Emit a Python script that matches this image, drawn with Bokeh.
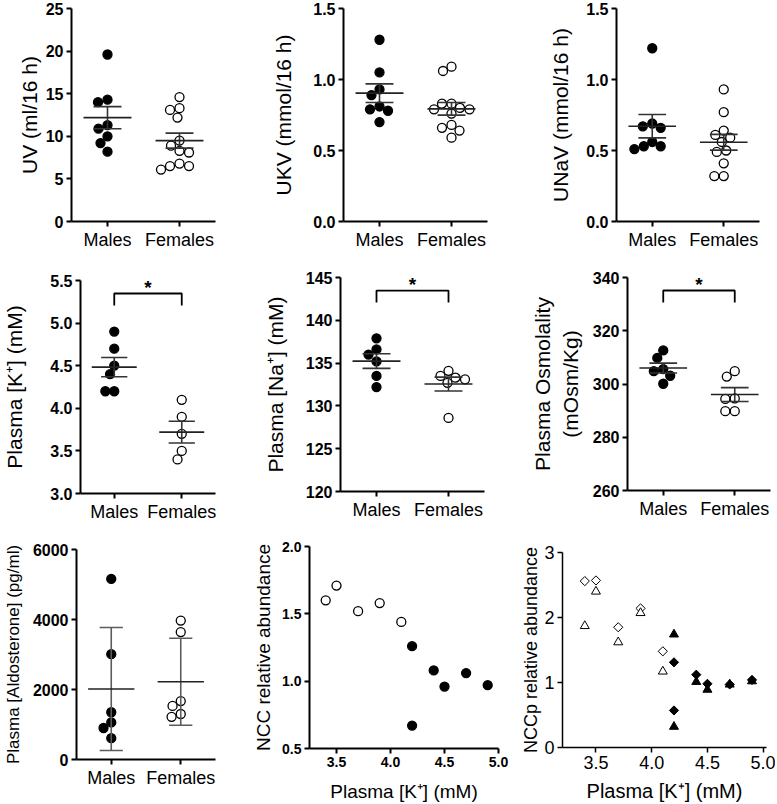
import numpy as np
from bokeh.plotting import figure
from bokeh.models import Range1d, FixedTicker, NumeralTickFormatter, Label
from bokeh.layouts import row, column
from bokeh.embed import file_html
from bokeh.resources import INLINE

FONT = "Liberation Sans"

# ---------------- data ----------------
groups = ["Males", "Females"]

uv_m = [19.6, 14.3, 14.0, 11.3, 10.9, 10.0, 9.2, 8.2]
uv_f = [14.6, 13.3, 13.1, 12.2, 9.5, 8.9, 8.3, 8.1, 6.8, 6.5, 6.5, 6.1]
ukv_m = [1.28, 1.05, 0.93, 0.89, 0.81, 0.79, 0.78, 0.70]
ukv_f = [1.09, 1.06, 0.83, 0.83, 0.80, 0.79, 0.79, 0.76, 0.68, 0.66, 0.64, 0.59]
unav_m = [1.22, 0.69, 0.67, 0.66, 0.56, 0.53, 0.53, 0.51]
unav_f = [0.93, 0.77, 0.64, 0.61, 0.59, 0.56, 0.50, 0.49, 0.41, 0.32, 0.32]
k_m = [4.9, 4.7, 4.5, 4.4, 4.2, 4.2]
k_f = [4.1, 3.9, 3.7, 3.5, 3.4]
na_m = [137.9, 136.6, 136.0, 135.2, 133.5, 132.2]
na_f = [134.1, 133.5, 133.3, 133.1, 132.7, 128.6]
osm_m = [312.6, 309.8, 305.6, 304.8, 303.1, 300.1]
osm_f = [304.8, 302.8, 294.6, 294.4, 289.8, 289.8]
aldo_m = [5160, 3010, 1350, 1060, 900, 610]
aldo_f = [3970, 3640, 1670, 1530, 1300, 1220]

ncc_k_f = [3.4, 3.5, 3.7, 3.9, 4.1]
ncc_f = [1.60, 1.71, 1.52, 1.58, 1.44]
ncc_k_m = [4.2, 4.2, 4.4, 4.5, 4.7, 4.9]
ncc_m = [1.26, 0.67, 1.08, 0.96, 1.06, 0.97]

nccp_k_f = [3.4, 3.5, 3.7, 3.9, 4.1]
nccp_dia_f = [2.56, 2.57, 1.85, 2.14, 1.48]
nccp_tri_f = [1.87, 2.40, 1.62, 2.07, 1.17]
nccp_k_m = [4.2, 4.2, 4.4, 4.5, 4.7, 4.9]
nccp_dia_m = [1.31, 0.57, 1.12, 0.98, 0.97, 1.04]
nccp_tri_m = [1.74, 0.32, 1.01, 0.89, 0.97, 1.02]

uv_ticks = [0, 5, 10, 15, 20, 25]
u_ticks = [0, 0.5, 1.0, 1.5]
k_ticks = [3.0, 3.5, 4.0, 4.5, 5.0, 5.5]
na_ticks = [120, 125, 130, 135, 140, 145]
osm_ticks = [260, 280, 300, 320, 340]
aldo_ticks = [0, 2000, 4000, 6000]
ncc_ticks = [0.5, 1.0, 1.5, 2.0]
nccp_ticks = [0, 1, 2, 3]
kx_ticks = [3.5, 4.0, 4.5, 5.0]

MARK = 9
CAT_PX = 72.0  # pixels between the two category centres


def swarm(vals, px_per_unit, d=MARK + 0.5):
    vals = list(vals)
    offs = [0.0] * len(vals)
    placed = []
    cands = sorted(set(np.round(np.arange(-40, 40.25, 0.5), 2)), key=lambda c: (abs(c), c))
    for i in np.argsort(-np.asarray(vals), kind="stable"):
        y = vals[i] * px_per_unit
        for c in cands:
            if all((c - ox) ** 2 + (y - oy) ** 2 >= d * d for ox, oy in placed):
                offs[i] = c
                placed.append((c, y))
                break
    return offs


def base_fig(geom, xr, yr):
    left, fw, right, top, fh, bottom = geom
    p = figure(width=left + fw + right, height=top + fh + bottom,
               x_range=xr, y_range=yr, output_backend="svg",
               toolbar_location=None, min_border_left=left,
               min_border_right=right, min_border_top=top,
               min_border_bottom=bottom)
    p.outline_line_color = None
    p.xgrid.visible = False
    p.ygrid.visible = False
    p.background_fill_color = "white"
    p.border_fill_color = "white"
    return p


def style_axis(ax, lw, tick_size, bold, label_size, standoff):
    ax.axis_line_width = lw
    ax.axis_line_color = "black"
    ax.major_tick_line_width = lw
    ax.major_tick_line_color = "black"
    ax.major_tick_out = 5
    ax.major_tick_in = 0
    ax.minor_tick_out = 0
    ax.minor_tick_in = 0
    ax.major_label_text_font = FONT
    ax.major_label_text_font_size = f"{tick_size}px"
    ax.major_label_text_font_style = "bold" if bold else "normal"
    ax.major_label_text_color = "black"
    ax.major_label_standoff = 3
    ax.axis_label_text_font = FONT
    ax.axis_label_text_font_size = f"{label_size}px"
    ax.axis_label_text_font_style = "normal"
    ax.axis_label_text_color = "black"
    ax.axis_label_standoff = standoff


def dot_panel(m, f, ylo, yhi, ticks, fmt, ylabel, geom, standoff,
              err="sem", star=False, label_size=21, cap=0.194):
    left, fw, right, top, fh, bottom = geom
    p = base_fig(geom, Range1d(0.5, 2.5), Range1d(ylo, yhi))
    ppu = fh / (yhi - ylo)
    for g, vals, fill in [(1, m, "black"), (2, f, "white")]:
        offs = swarm(vals, ppu)
        xs = [g + o / CAT_PX for o in offs]
        p.scatter(xs, vals, marker="circle", size=MARK, fill_color=fill,
                  line_color="black", line_width=1.3)
    for g, vals in [(1, m), (2, f)]:
        a = np.asarray(vals, dtype=float)
        mean = a.mean()
        sd = a.std(ddof=1)
        e = sd / np.sqrt(len(a)) if err == "sem" else sd
        bar_col = "#333333" if err == "sem" else "#5c5c5c"
        p.segment(x0=[g], x1=[g], y0=[mean - e], y1=[mean + e],
                  line_color=bar_col, line_width=1.6)
        p.segment(x0=[g - cap, g - cap], x1=[g + cap, g + cap],
                  y0=[mean - e, mean + e], y1=[mean - e, mean + e],
                  line_color=bar_col, line_width=1.6)
        p.segment(x0=[g - 0.333], x1=[g + 0.333], y0=[mean], y1=[mean],
                  line_color="#222222", line_width=1.6)
    if star:
        span = yhi - ylo
        yb = yhi - 0.061 * span
        yd = yb - 0.056 * span
        p.line([1, 1, 2, 2], [yd, yb, yb, yd], line_color="black", line_width=1.8)
        p.add_layout(Label(x=1.5, y=yb + 6.0 * span / fh, text="*", text_align="center",
                           text_baseline="alphabetic", text_font=FONT,
                           text_font_size="19px", text_font_style="bold",
                           text_color="black"))
    p.xaxis.ticker = FixedTicker(ticks=[1, 2])
    p.xaxis.major_label_overrides = {1: groups[0], 2: groups[1]}
    p.yaxis.ticker = FixedTicker(ticks=ticks)
    p.yaxis.formatter = NumeralTickFormatter(format=fmt)
    style_axis(p.xaxis[0], 2, 18, False, 18, 5)
    style_axis(p.yaxis[0], 2, 16, True, label_size, standoff)
    p.yaxis.axis_label = ylabel
    return p


# ---------------- row 1 (height 270) ----------------
p1 = dot_panel(uv_m, uv_f, 0, 25, uv_ticks, "0", "UV (ml/16 h)",
               (71, 144, 45, 8, 213, 49), 2)
p2 = dot_panel(ukv_m, ukv_f, 0, 1.5, u_ticks, "0.0", "UKV (mmol/16 h)",
               (83, 144, 30, 8, 213, 49), 15)
p3 = dot_panel(unav_m, unav_f, 0, 1.5, u_ticks, "0.0", "UNaV (mmol/16 h)",
               (99, 143, 16, 8, 213, 49), 11)

# ---------------- row 2 (height 270) ----------------
p4 = dot_panel(k_m, k_f, 3.0, 5.5, k_ticks, "0.0", "Plasma [K\u207a] (mM)",
               (71, 144, 45, 10, 213, 47), 21, star=True)
p5 = dot_panel(na_m, na_f, 120, 145, na_ticks, "0", "Plasma [Na\u207a] (mM)",
               (80, 144, 33, 7, 214, 49), 16, star=True)
p6 = dot_panel(osm_m, osm_f, 260, 340, osm_ticks, "0", "Plasma Osmolality\n(mOsm/Kg)",
               (110, 143, 5, 7, 213, 50), 8, star=True)

# ---------------- row 3 (height 264) ----------------
p7 = dot_panel(aldo_m, aldo_f, 0, 6000, aldo_ticks, "0", "Plasma [Aldosterone] (pg/ml)",
               (71, 144, 35, 9, 210, 45), 7, err="sd", label_size=17, cap=0.167)

# NCC scatter
geom8 = (54, 194, 17, 6, 203, 55)
p8 = base_fig(geom8, Range1d(3.25, 5.0), Range1d(0.5, 2.0))
p8.scatter(ncc_k_f, ncc_f, marker="circle", size=MARK, fill_color="white",
           line_color="black", line_width=1.3)
p8.scatter(ncc_k_m, ncc_m, marker="circle", size=MARK, fill_color="black",
           line_color="black", line_width=1.3)
p8.xaxis.ticker = FixedTicker(ticks=kx_ticks)
p8.xaxis.formatter = NumeralTickFormatter(format="0.0")
p8.yaxis.ticker = FixedTicker(ticks=ncc_ticks)
p8.yaxis.formatter = NumeralTickFormatter(format="0.0")
style_axis(p8.xaxis[0], 2, 14, True, 19, 11)
style_axis(p8.yaxis[0], 2, 14, True, 19, 5)
p8.xaxis.axis_label = "Plasma [K\u207a] (mM)"
p8.yaxis.axis_label = "NCC relative abundance"

# NCCp scatter
geom9 = (47, 204, 9, 12, 198, 54)
p9 = base_fig(geom9, Range1d(3.2, 5.03), Range1d(0, 3))
p9.scatter(nccp_k_f, nccp_dia_f, marker="square", angle=np.pi / 4, size=6.5,
           fill_color="white", line_color="black", line_width=1.0)
p9.scatter(nccp_k_f, nccp_tri_f, marker="triangle", size=9,
           fill_color="white", line_color="black", line_width=1.0)
p9.scatter(nccp_k_m, nccp_dia_m, marker="square", angle=np.pi / 4, size=6.5,
           fill_color="black", line_color="black", line_width=1.0)
p9.scatter(nccp_k_m, nccp_tri_m, marker="triangle", size=9,
           fill_color="black", line_color="black", line_width=1.0)
p9.xaxis.ticker = FixedTicker(ticks=kx_ticks)
p9.xaxis.formatter = NumeralTickFormatter(format="0.0")
p9.yaxis.ticker = FixedTicker(ticks=nccp_ticks)
p9.yaxis.formatter = NumeralTickFormatter(format="0")
style_axis(p9.xaxis[0], 1.5, 18, False, 20, 8)
style_axis(p9.yaxis[0], 1.5, 18, False, 18, 0)
p9.xaxis.axis_label = "Plasma [K\u207a] (mM)"
p9.yaxis.axis_label = "NCCp relative abundance"

# each figure wrapped in its own column so that frames are not aligned across a row
layout = column(
    row(column(p1), column(p2), column(p3)),
    row(column(p4), column(p5), column(p6)),
    row(column(p7), column(p8), column(p9)),
)

with open("out.html", "w") as fh:
    fh.write(file_html(layout, INLINE))
